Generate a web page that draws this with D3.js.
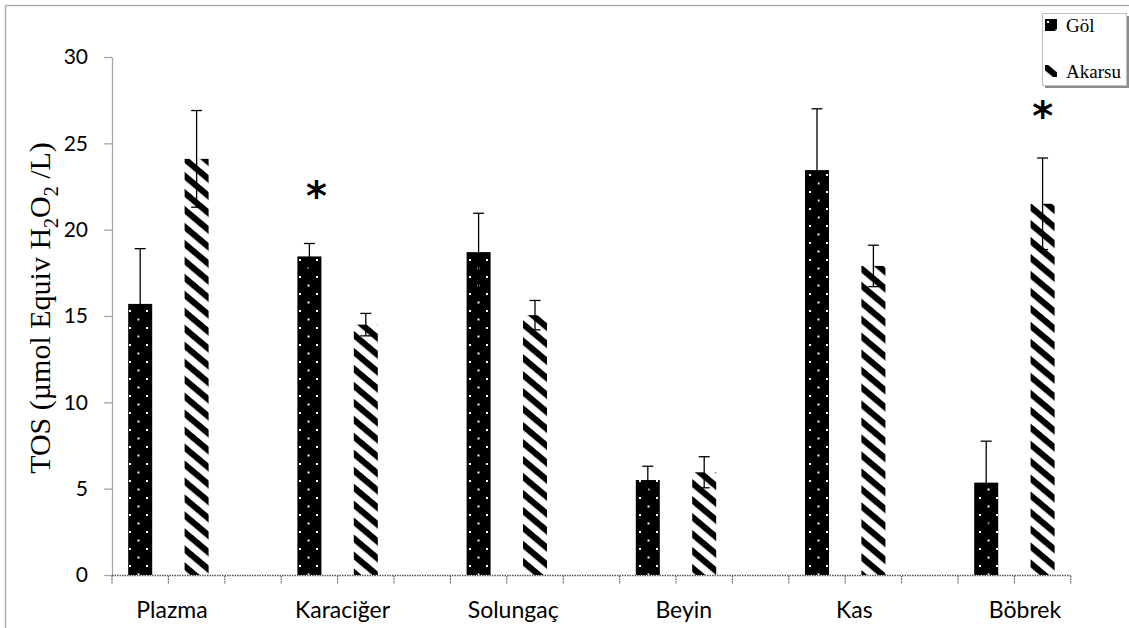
<!DOCTYPE html>
<html>
<head>
<meta charset="utf-8">
<script src="https://cdn.jsdelivr.net/npm/d3@7"></script>
<style>
  html, body { margin: 0; padding: 0; background: #fff; }
  svg { display: block; }
</style>
</head>
<body>
<svg id="chart" width="1129" height="628"></svg>
<script>
// Tissue categories and the two sampling sites
const categories = ["Plazma", "Karaciğer", "Solungaç", "Beyin", "Kas", "Böbrek"];
const series = ["Göl", "Akarsu"];

// Mean TOS values and their error (±)
const golValues    = [15.7, 18.45, 18.7, 5.5, 23.45, 5.35];
const golErrors    = [3.2, 0.75, 2.25, 0.8, 3.55, 2.4];
const akarsuValues = [24.1, 14.5, 15.05, 5.95, 17.9, 21.5];
const akarsuErrors = [2.8, 0.65, 0.85, 0.9, 1.2, 2.65];

// Significant differences marked with an asterisk: [category, series]
const significance = [["Karaciğer", "Göl"], ["Böbrek", "Akarsu"]];

const yTicks = [0, 5, 10, 15, 20, 25, 30];

const svg = d3.select("#chart");

// Outer frame
svg.append("rect")
  .attr("x", 5.5).attr("y", 5.5)
  .attr("width", 1140).attr("height", 640)
  .attr("fill", "none").attr("stroke", "#a6a6a6").attr("stroke-width", 1.3);

// Patterns
const defs = svg.append("defs");
const dots = defs.append("pattern")
  .attr("id", "dots").attr("patternUnits", "userSpaceOnUse")
  .attr("width", 17).attr("height", 17).attr("x", 129).attr("y", 4);
dots.append("rect").attr("width", 17).attr("height", 17).attr("fill", "#000");
dots.append("rect").attr("x", 0).attr("y", 0).attr("width", 2).attr("height", 2).attr("fill", "#fff");
dots.append("rect").attr("x", 8.5).attr("y", 8.5).attr("width", 2).attr("height", 2).attr("fill", "#fff");

const hatch = defs.append("pattern")
  .attr("id", "hatch").attr("patternUnits", "userSpaceOnUse")
  .attr("width", 13).attr("height", 13)
  .attr("patternTransform", "rotate(40)");
hatch.append("rect").attr("width", 13).attr("height", 13).attr("fill", "#fff");
hatch.append("rect").attr("width", 13).attr("height", 6.2).attr("fill", "#000");

const fills = { "Göl": "url(#dots)", "Akarsu": "url(#hatch)" };

// Layout: each tissue takes three slots (Göl, Akarsu, gap); the last omits the gap
const plot = { left: 112, top: 57, bottom: 575 };
const slots = [];
categories.forEach((c, i) => {
  slots.push(c + "|Göl", c + "|Akarsu");
  if (i < categories.length - 1) slots.push(c + "|gap");
});
const slotWidth = 56.4;
const x = d3.scaleBand()
  .domain(slots)
  .range([plot.left, plot.left + slotWidth * slots.length])
  .paddingInner(0).paddingOuter(0);

const y = d3.scaleLinear().domain([0, 30]).range([plot.bottom, plot.top]);

// Y axis
const yAxis = svg.append("g")
  .attr("transform", `translate(${plot.left},0)`)
  .call(d3.axisLeft(y).tickValues(yTicks).tickSize(8).tickPadding(16).tickSizeOuter(0));
yAxis.select(".domain").attr("stroke", "#a6a6a6").attr("stroke-width", 1.3);
yAxis.selectAll(".tick line").attr("stroke", "#a6a6a6").attr("stroke-width", 1.3);
yAxis.selectAll(".tick text")
  .attr("fill", "#000")
  .style("font-family", "Lato, 'Open Sans', sans-serif")
  .style("font-size", "21px");

// Bars
const data = [];
categories.forEach((c, i) => {
  data.push({ cat: c, ser: "Göl", v: golValues[i], e: golErrors[i] });
  data.push({ cat: c, ser: "Akarsu", v: akarsuValues[i], e: akarsuErrors[i] });
});
const barW = 24;
const cx = d => x(d.cat + "|" + d.ser) + x.bandwidth() / 2;

svg.append("g").selectAll("rect")
  .data(data).join("rect")
  .attr("x", d => cx(d) - barW / 2)
  .attr("y", d => y(d.v))
  .attr("width", barW)
  .attr("height", d => y(0) - y(d.v))
  .attr("fill", d => fills[d.ser]);

// Error bars
const eb = svg.append("g").attr("stroke", "#000").attr("stroke-width", 1.3);
eb.selectAll("line.v").data(data).join("line").attr("class", "v")
  .attr("x1", cx).attr("x2", cx)
  .attr("y1", d => y(d.v - d.e)).attr("y2", d => y(d.v + d.e));
eb.selectAll("line.t").data(data).join("line").attr("class", "t")
  .attr("x1", d => cx(d) - 5.5).attr("x2", d => cx(d) + 5.5)
  .attr("y1", d => y(d.v + d.e)).attr("y2", d => y(d.v + d.e));
eb.selectAll("line.b").data(data).join("line").attr("class", "b")
  .attr("x1", d => cx(d) - 5.5).attr("x2", d => cx(d) + 5.5)
  .attr("y1", d => y(d.v - d.e)).attr("y2", d => y(d.v - d.e));

// X axis: dotted baseline with ticks at slot boundaries
const xg = svg.append("g");
const xEnd = plot.left + slotWidth * slots.length;
xg.append("line")
  .attr("x1", plot.left).attr("x2", xEnd)
  .attr("y1", plot.bottom + 0.5).attr("y2", plot.bottom + 0.5)
  .attr("stroke", "#555").attr("stroke-width", 1.3).attr("stroke-dasharray", "1.5,1");
const boundaries = slots.map(s => x(s)).concat([xEnd]);
xg.selectAll("line.tk").data(boundaries).join("line").attr("class", "tk")
  .attr("x1", d => d).attr("x2", d => d)
  .attr("y1", plot.bottom + 1).attr("y2", plot.bottom + 9)
  .attr("stroke", "#555").attr("stroke-width", 1.2).attr("stroke-dasharray", "1.5,1");

// Category labels
const xLabel = d3.scalePoint().domain(categories).range([172, 1025]);
svg.append("g").selectAll("text")
  .data(categories).join("text")
  .attr("x", d => xLabel(d))
  .attr("y", 618)
  .attr("text-anchor", "middle")
  .style("font-family", "Lato, 'Open Sans', sans-serif")
  .style("font-size", "23px")
  .text(d => d);

// Significance markers
svg.append("g").selectAll("text")
  .data(significance).join("text")
  .attr("x", d => x(d[0] + "|" + d[1]) + x.bandwidth() / 2 + (d[1] === "Göl" ? 7 : 0))
  .attr("y", (d) => {
    const i = categories.indexOf(d[0]);
    const v = d[1] === "Göl" ? golValues[i] + golErrors[i] : akarsuValues[i] + akarsuErrors[i];
    return y(v) - (d[1] === "Göl" ? 33 : 28);
  })
  .attr("text-anchor", "middle")
  .style("font-family", "'DejaVu Sans', sans-serif")
  .style("font-weight", "bold")
  .style("font-size", "40px")
  .text("*");

// Y axis title
const title = svg.append("text")
  .attr("transform", "translate(50,308) rotate(-90)")
  .attr("text-anchor", "middle")
  .style("font-family", "'Liberation Serif', 'Times New Roman', serif")
  .style("font-size", "30px");
title.append("tspan").text("TOS (µmol Equiv H");
title.append("tspan").attr("dy", 8).style("font-size", "20px").text("2");
title.append("tspan").attr("dy", -8).text("O");
title.append("tspan").attr("dy", 8).style("font-size", "20px").text("2");
title.append("tspan").attr("dy", -8).text(" /L)");

// Legend
const lg = svg.append("g");
lg.append("rect").attr("x", 1045).attr("y", 16).attr("width", 84).attr("height", 72).attr("fill", "#8c8c8c");
lg.append("rect").attr("x", 1042.5).attr("y", 13.5).attr("width", 84).attr("height", 72)
  .attr("fill", "#fff").attr("stroke", "#bfbfbf").attr("stroke-width", 1);
series.forEach((s, i) => {
  const yy = i === 0 ? 19 : 65;
  lg.append("rect").attr("x", 1045).attr("y", yy).attr("width", 12).attr("height", 12)
    .attr("fill", fills[s]);
  lg.append("text").attr("x", 1066).attr("y", yy + 13)
    .style("font-family", "'Liberation Serif', 'Times New Roman', serif")
    .style("font-size", "19px")
    .text(s);
});
</script>
</body>
</html>
